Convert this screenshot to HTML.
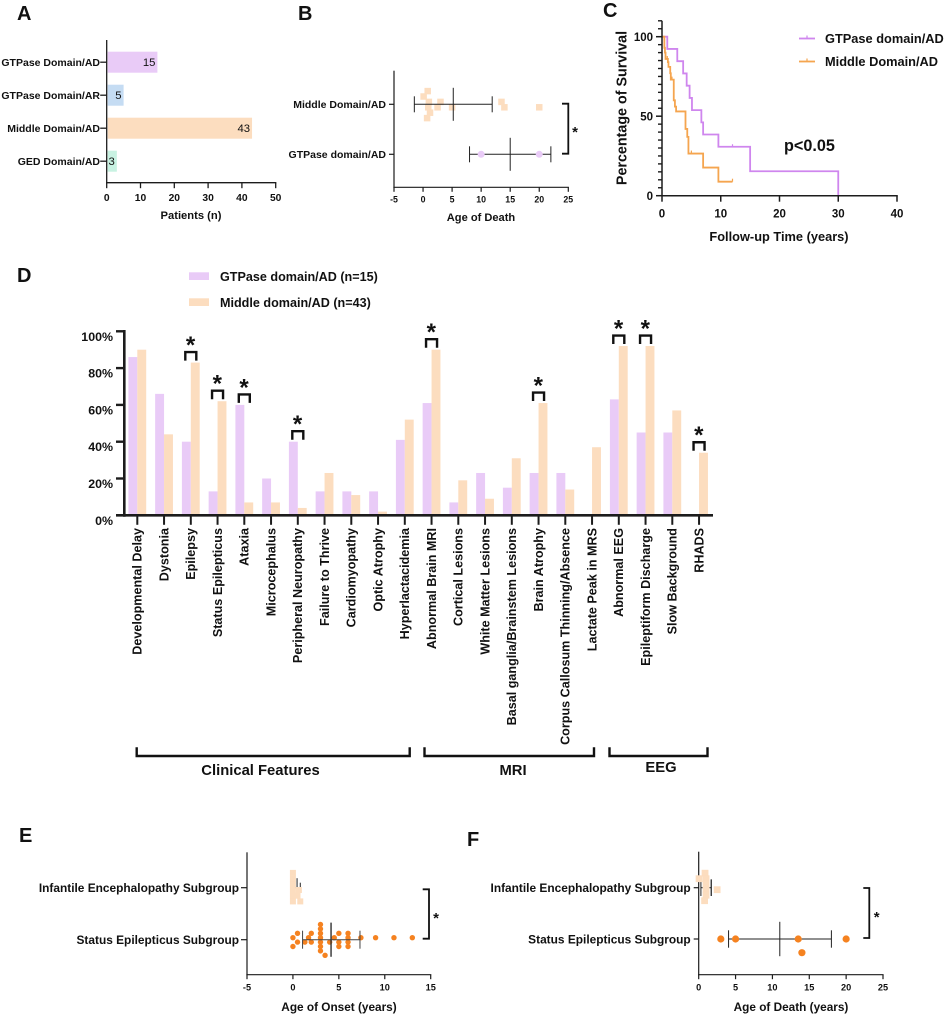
<!DOCTYPE html>
<html lang="en">
<head>
<meta charset="utf-8">
<title>DNM1L domain comparison figure</title>
<style>
html,body{margin:0;padding:0;background:#fff;width:946px;height:1015px;overflow:hidden}
svg{display:block}
text{font-family:"Liberation Sans",sans-serif;fill:#111;font-weight:bold}
.letter{font-size:20px}
</style>
</head>
<body>
<svg id="figure" width="946" height="1015" viewBox="0 0 946 1015" xmlns="http://www.w3.org/2000/svg">
  <rect x="0" y="0" width="946" height="1015" fill="#fff"/>

  <g id="panelA">
    <text class="letter" x="17" y="20">A</text>
    <text x="191" y="219" font-size="11.2" text-anchor="middle">Patients (n)</text>
  </g>
  <g id="panelB">
    <text class="letter" x="298" y="20">B</text>
    <text x="481" y="221" font-size="11.1" text-anchor="middle">Age of Death</text>
    <text x="575" y="137" font-size="15" text-anchor="middle">*</text>
  </g>
  <g id="panelC">
    <text class="letter" x="603" y="17">C</text>
    <text transform="translate(626.5,108) rotate(-90)" font-size="14.3" text-anchor="middle">Percentage of Survival</text>
    <text x="779" y="241" font-size="12.8" text-anchor="middle">Follow-up Time (years)</text>
    <text x="784" y="151" font-size="16.2">p&lt;0.05</text>
    <text x="825" y="43" font-size="12.8">GTPase domain/AD</text>
    <text x="825" y="66" font-size="12.8">Middle Domain/AD</text>
  </g>
  <g id="panelD">
    <text class="letter" x="17" y="282">D</text>
    <rect x="189" y="272.3" width="20" height="7.7" fill="#E9CBF7"/>
    <rect x="189" y="298.3" width="20" height="7.7" fill="#FCDDBF"/>
    <text x="220" y="281" font-size="12.6">GTPase domain/AD (n=15)</text>
    <text x="220" y="307" font-size="12.6">Middle domain/AD (n=43)</text>
    <path d="M136.7 747.3V756H409.7V747.3" fill="none" stroke="#111" stroke-width="2.4"/>
    <path d="M424.5 747.3V756H594V747.3" fill="none" stroke="#111" stroke-width="2.4"/>
    <path d="M609.5 747.3V756H707.5V747.3" fill="none" stroke="#111" stroke-width="2.4"/>
    <text x="260.5" y="775.2" font-size="14.8" text-anchor="middle">Clinical Features</text>
    <text x="513" y="775.2" font-size="14.8" text-anchor="middle">MRI</text>
    <text x="661" y="772.2" font-size="14.8" text-anchor="middle">EEG</text>
  </g>
  <g id="panelE">
    <text class="letter" x="19" y="842">E</text>
    <text x="339" y="1011" font-size="11.8" text-anchor="middle">Age of Onset (years)</text>
    <text x="436" y="923" font-size="15" text-anchor="middle">*</text>
  </g>
  <g id="panelF">
    <text class="letter" x="467" y="846">F</text>
    <text x="791" y="1011" font-size="11.8" text-anchor="middle">Age of Death (years)</text>
    <text x="876.7" y="922" font-size="15" text-anchor="middle">*</text>
  </g>
</svg>

<script>
// ---------- Panel A data ----------
const aCategories = ['GTPase Domain/AD', 'GTPase Domain/AR', 'Middle Domain/AD', 'GED Domain/AD'];
const aValues = [15, 5, 43, 3];
const aTicks = [0, 10, 20, 30, 40, 50];

// ---------- Panel B data ----------
const bMiddleAges = [0.8, 0.1, 1, 3, 13.5, 0.9, 2.5, 5, 14, 20, 1.2, 0.7];
const bMiddleLanes = [-3, -2, -1, -1, -1, 0, 0, 0, 0, 0, 1, 2];
const bMiddleStats = [-1.5, 5.2, 11.9];
const bGtpaseAges = [10, 20];
const bGtpaseStats = [8, 15, 22];
const bTicks = [-5, 0, 5, 10, 15, 20, 25];
const bCategories = ['Middle Domain/AD', 'GTPase domain/AD'];

// ---------- Panel C data ----------
const cGtpaseTimes = [0, 0.9, 2.6, 3.6, 4.2, 4.7, 5.1, 6.7, 7, 9.6, 15, 30];
const cGtpaseSurvival = [100, 92.3, 84.6, 76.9, 69.2, 61.5, 53.8, 46.1, 38.5, 30.8, 15.4, 0];
const cGtpaseCensorTimes = [12];
const cMiddleTimes = [0, 0.4, 0.5, 0.6, 1, 1.1, 1.4, 1.5, 2, 2.2, 2.4, 4, 4.3, 4.5, 7, 9.6, 12];
const cMiddleSurvival = [100, 93, 90, 86, 84, 81, 77, 73, 60, 56, 53, 42, 37, 26.5, 17.7, 8.8, 8.8];
const cMiddleCensorTimes = [0.9, 1.7, 5, 12];
const cXTicks = [0, 10, 20, 30, 40];
const cYMajorTicks = [0, 50, 100];
const cYMinorTicks = [5, 10, 15, 20, 25, 30, 35, 40, 45, 55, 60, 65, 70, 75, 80, 85, 90, 95, 105, 110];

// ---------- Panel D data ----------
const dCategories = ['Developmental Delay', 'Dystonia', 'Epilepsy', 'Status Epilepticus', 'Ataxia', 'Microcephalus', 'Peripheral Neuropathy', 'Failure to Thrive', 'Cardiomyopathy', 'Optic Atrophy', 'Hyperlactacidemia', 'Abnormal Brain MRI', 'Cortical Lesions', 'White Matter Lesions', 'Basal ganglia/Brainstem Lesions', 'Brain Atrophy', 'Corpus Callosum Thinning/Absence', 'Lactate Peak in MRS', 'Abnormal EEG', 'Epileptiform Discharge', 'Slow Background', 'RHADS'];
const dGtpase = [86, 66, 40, 13, 60, 20, 40, 13, 13, 13, 41, 61, 7, 23, 15, 23, 23, 0, 63, 45, 45, 0];
const dMiddle = [90, 44, 83, 62, 7, 7, 4, 23, 11, 2, 52, 90, 19, 9, 31, 61, 14, 37, 92, 92, 57, 34];
const dSignificant = ['Epilepsy', 'Status Epilepticus', 'Ataxia', 'Peripheral Neuropathy', 'Abnormal Brain MRI', 'Brain Atrophy', 'Abnormal EEG', 'Epileptiform Discharge', 'RHADS'];
const dTicks = [0, 20, 40, 60, 80, 100];

// ---------- Panel E data ----------
const eCategories = ['Infantile Encephalopathy Subgroup', 'Status Epilepticus Subgroup'];
const eInfantileAges = [0, 0, 0, 0, 0, 0, 0.65, 0.5, 0.8];
const eInfantileLanes = [-3, -2, -1, 0, 1, 2, 0, 1, 2];
const eInfantileStats = [0.1, 0.45, 0.8];
const eStatusAges = [0, 0, 0.5, 0.5, 1.7, 1.3, 2, 2, 3, 3, 3, 3, 3, 3, 3, 3.5, 4, 4.5, 5, 5, 5, 6, 6, 6, 6, 7.4, 9, 11, 13];
const eStatusLanes = [0, 2, -1, 1, 0, 1, -1, 1, -3, -2, -1, 0, 1, 2, 3, 4, 1, 0, -1, 1, 2, -1, 0, 1, 2, 0, 0, 0, 0];
const eStatusStats = [1.05, 4.15, 7.3];
const eTicks = [-5, 0, 5, 10, 15];

// ---------- Panel F data ----------
const fCategories = ['Infantile Encephalopathy Subgroup', 'Status Epilepticus Subgroup'];
const fInfantileAges = [0.86, 0.05, 1, 1, 1, 2.5, 1, 0.8];
const fInfantileLanes = [-3, -2, -2, -1, 0, 0, 1, 2];
const fInfantileStats = [0.3, 1, 1.7];
const fStatusAges = [3, 5, 13.5, 20, 14];
const fStatusLanes = [0, 0, 0, 0, 1];
const fStatusStats = [4.05, 11, 18];
const fTicks = [0, 5, 10, 15, 20, 25];

// ---------- Helpers ----------
const NS = 'http://www.w3.org/2000/svg';
const INK = '#1c1c1c';
const PURPLE = '#E9CBF7';
const ORANGE = '#FCDDBF';
const linear = (d0, d1, r0, r1) => v => r0 + (v - d0) * (r1 - r0) / (d1 - d0);

function mk(parent, tag, name, attrs, content) {
  const el = document.createElementNS(NS, tag);
  
  
  for (const k in attrs) el.setAttribute(k, attrs[k]);
  if (content !== undefined) el.textContent = content;
  parent.appendChild(el);
  return el;
}
function seg(parent, name, x1, y1, x2, y2, w, color) {
  return mk(parent, 'line', name, { x1, y1, x2, y2, stroke: color || INK, 'stroke-width': w });
}
function label(parent, name, x, y, size, anchor, txt, extra) {
  return mk(parent, 'text', name, Object.assign({ x, y, 'font-size': size, 'text-anchor': anchor }, extra || {}), txt);
}
function numberAxis(g, prefix, scale, ticks, y, tickLen, labelY, size, width) {
  const x0 = scale(ticks[0]), x1 = scale(ticks[ticks.length - 1]);
  seg(g, prefix + '-x-axis', x0 - width / 2, y, x1 + width / 2, y, width);
  ticks.forEach(t => {
    seg(g, prefix + '-x-tick', scale(t), y, scale(t), y + tickLen, width);
    label(g, prefix + '-x-tick-label', scale(t), labelY, size, 'middle', String(t));
  });
}
function categoryTick(g, prefix, axisX, y, len, rightX, size, txt, width) {
  seg(g, prefix + '-y-tick', axisX - len, y, axisX, y, width);
  label(g, prefix + '-y-tick-label', rightX, y + size * 0.36, size, 'end', txt);
}
function swarm(g, name, values, lanes, xs, baseY, step, shape, size, color) {
  values.forEach((v, i) => {
    const cx = xs(v), cy = baseY + lanes[i] * step;
    if (shape === 'square') {
      mk(g, 'rect', name, { x: cx - size / 2, y: cy - size / 2, width: size, height: size, fill: color });
    } else {
      mk(g, 'circle', name, { cx, cy, r: size / 2, fill: color });
    }
  });
}
function whisker(g, name, stats, xs, y, capHalf, meanHalf, color, w) {
  seg(g, name + '-line', xs(stats[0]), y, xs(stats[2]), y, w, color);
  seg(g, name + '-low-cap', xs(stats[0]), y - capHalf, xs(stats[0]), y + capHalf, w, color);
  seg(g, name + '-mean', xs(stats[1]), y - meanHalf, xs(stats[1]), y + meanHalf, w, color);
  seg(g, name + '-high-cap', xs(stats[2]), y - capHalf, xs(stats[2]), y + capHalf, w, color);
}
function sideBracket(g, name, x, arm, y0, y1) {
  mk(g, 'path', name, { d: `M${x - arm} ${y0}H${x}V${y1}H${x - arm}`, fill: 'none', stroke: '#111', 'stroke-width': 1.8 });
}

// ---------- Panel A ----------
(function () {
  const g = document.getElementById('panelA');
  const xs = linear(0, 50, 106.7, 275.7);
  const ys = i => 62.2 + 33 * i;
  const colors = ['#E9CBF7', '#C5DCF3', '#FCDDBF', '#C8F2E2'];
  aValues.forEach((v, i) => {
    mk(g, 'rect', 'patient-count-bar', { x: xs(0) + 1, y: ys(i) - 10.5, width: xs(v) - xs(0) - 1, height: 21, fill: colors[i] });
    label(g, 'patient-count-value', xs(v) - 2, ys(i) + 4, 11.3, 'end', String(v), { style: 'font-weight:normal' });
    categoryTick(g, 'panel-a', xs(0), ys(i), 6.5, 100, 10.5, aCategories[i], 1.3);
  });
  seg(g, 'panel-a-y-axis', xs(0), 40, xs(0), 183.2, 1.3);
  numberAxis(g, 'panel-a', xs, aTicks, 182.7, 5.5, 201, 10.3, 1.3);
})();

// ---------- Panel B ----------
(function () {
  const g = document.getElementById('panelB');
  const xs = linear(-5, 25, 394, 568.3);
  const rowM = 104.3, rowG = 154.3;
  seg(g, 'panel-b-y-axis', 394, 70.7, 394, 187.8, 1.2);
  numberAxis(g, 'panel-b', xs, bTicks, 187.3, 4.5, 202.3, 8.8, 1.2);
  categoryTick(g, 'panel-b', 394, rowM, 5, 386, 10.5, bCategories[0], 1.2);
  categoryTick(g, 'panel-b', 394, rowG, 5, 386, 10.5, bCategories[1], 1.2);
  swarm(g, 'middle-domain-death-point', bMiddleAges, bMiddleLanes, xs, 107.3, 5.4, 'square', 6.5, ORANGE);
  whisker(g, 'middle-domain-whisker', bMiddleStats, xs, rowM, 8, 16.5, '#222', 1);
  whisker(g, 'gtpase-domain-whisker', bGtpaseStats, xs, rowG, 8, 16.5, '#222', 1);
  swarm(g, 'gtpase-domain-death-point', bGtpaseAges, bGtpaseAges.map(() => 0), xs, rowG, 0, 'circle', 7, PURPLE);
  sideBracket(g, 'panel-b-significance-bracket', 568.3, 6.3, 103.7, 153.7);
})();

// ---------- Panel C ----------
(function () {
  const g = document.getElementById('panelC');
  const xs = linear(0, 40, 662, 897);
  const ys = linear(0, 100, 195.7, 36.7);
  const GP = '#CF86EE', OR = '#F5A54F';
  function stepPath(times, surv) {
    let d = `M${xs(times[0])} ${ys(surv[0])}`;
    for (let i = 1; i < times.length; i++) {
      d += `H${xs(times[i])}V${ys(surv[i])}`;
    }
    return d;
  }
  function survivalAt(times, surv, t) {
    let s = surv[0];
    times.forEach((tt, i) => { if (tt <= t) s = surv[i]; });
    return s;
  }
  mk(g, 'path', 'gtpase-survival-curve', { d: stepPath(cGtpaseTimes, cGtpaseSurvival), fill: 'none', stroke: GP, 'stroke-width': 1.8 });
  cGtpaseCensorTimes.forEach(t => {
    const y = ys(survivalAt(cGtpaseTimes, cGtpaseSurvival, t));
    seg(g, 'gtpase-censor-mark', xs(t), y - 2.5, xs(t), y, 1.2, GP);
  });
  mk(g, 'path', 'middle-survival-curve', { d: stepPath(cMiddleTimes, cMiddleSurvival), fill: 'none', stroke: OR, 'stroke-width': 1.8 });
  cMiddleCensorTimes.forEach(t => {
    const y = ys(survivalAt(cMiddleTimes, cMiddleSurvival, t));
    seg(g, 'middle-censor-mark', xs(t), y - 3, xs(t), y, 1.2, OR);
  });
  seg(g, 'panel-c-y-axis', xs(0), ys(110), xs(0), ys(0), 1.5);
  cYMinorTicks.forEach(t => seg(g, 'panel-c-y-minor-tick', xs(0) - 4, ys(t), xs(0), ys(t), 1.4));
  cYMajorTicks.forEach(t => {
    seg(g, 'panel-c-y-tick', xs(0) - 6, ys(t), xs(0), ys(t), 1.5);
    label(g, 'panel-c-y-tick-label', 653, ys(t) + 4.2, 11.5, 'end', String(t));
  });
  numberAxis(g, 'panel-c', xs, cXTicks, ys(0), 6, 217.5, 11.5, 1.5);
  seg(g, 'legend-line-gtpase', 799, 38.5, 815, 38.5, 1.8, GP);
  seg(g, 'legend-censor-gtpase', 807, 35.5, 807, 38.5, 1.2, GP);
  seg(g, 'legend-line-middle', 799, 61.5, 815, 61.5, 1.8, OR);
  seg(g, 'legend-censor-middle', 807, 58.5, 807, 61.5, 1.2, OR);
})();

// ---------- Panel D ----------
(function () {
  const g = document.getElementById('panelD');
  const xs = i => 137.3 + 26.75 * i;
  const ys = linear(0, 100, 515.3, 331.3);
  const barW = 8.9;
  dCategories.forEach((c, i) => {
    mk(g, 'rect', 'gtpase-bar', { x: xs(i) - barW, y: ys(dGtpase[i]), width: barW, height: ys(0) - ys(dGtpase[i]), fill: PURPLE });
    mk(g, 'rect', 'middle-bar', { x: xs(i), y: ys(dMiddle[i]), width: barW, height: ys(0) - ys(dMiddle[i]), fill: ORANGE });
    seg(g, 'panel-d-x-tick', xs(i), ys(0), xs(i), ys(0) + 9.5, 2);
    mk(g, 'text', 'category-label', { transform: `translate(${xs(i) + 4.4},528) rotate(-90)`, 'font-size': 12.6, 'text-anchor': 'end' }, c);
  });
  dSignificant.forEach(name => {
    const i = dCategories.indexOf(name);
    const bottom = ys(Math.max(dGtpase[i], dMiddle[i])) - 2;
    mk(g, 'path', 'significance-bracket', { d: `M${xs(i) - 5.5} ${bottom}V${bottom - 8.5}H${xs(i) + 5.5}V${bottom}`, fill: 'none', stroke: '#111', 'stroke-width': 2.4 });
    label(g, 'significance-star', xs(i) - 0.3, bottom - 7.5, 24, 'middle', '*');
  });
  seg(g, 'panel-d-y-axis', 124.3, 330, 124.3, 516.8, 2.6);
  seg(g, 'panel-d-x-axis', 116, ys(0), 713, ys(0), 2.6);
  dTicks.forEach(t => {
    seg(g, 'panel-d-y-tick', 116, ys(t), 124.3, ys(t), 2.4);
    label(g, 'panel-d-y-tick-label', 113, ys(t) + 9.5, 12.4, 'end', t + '%');
  });
})();

// ---------- Panel E ----------
(function () {
  const g = document.getElementById('panelE');
  const xs = linear(-5, 15, 247, 430.7);
  const rowI = 887.7, rowS = 939.7;
  seg(g, 'panel-e-y-axis', 247, 852.3, 247, 975.2, 1.2);
  numberAxis(g, 'panel-e', xs, eTicks, 974.7, 4.5, 990.3, 9.2, 1.2);
  categoryTick(g, 'panel-e', 247, rowI, 6, 239, 11.9, eCategories[0], 1.2);
  categoryTick(g, 'panel-e', 247, rowS, 6, 239, 11.9, eCategories[1], 1.2);
  whisker(g, 'infantile-onset-whisker', eInfantileStats, xs, rowI, 5, 9.5, '#222', 1);
  swarm(g, 'infantile-onset-point', eInfantileAges, eInfantileLanes, xs, 890, 5.7, 'square', 6, ORANGE);
  swarm(g, 'status-onset-point', eStatusAges, eStatusLanes, xs, 937.7, 4.4, 'circle', 5.4, '#F58220');
  whisker(g, 'status-onset-whisker', eStatusStats, xs, rowS, 9, 17, '#444', 1);
  seg(g, 'status-onset-mean-emphasis', xs(eStatusStats[1]), rowS - 17, xs(eStatusStats[1]), rowS + 17, 1.4, '#333');
  sideBracket(g, 'panel-e-significance-bracket', 429, 6.3, 889.3, 938.7);
})();

// ---------- Panel F ----------
(function () {
  const g = document.getElementById('panelF');
  const xs = linear(0, 25, 698.7, 883);
  const rowI = 887.7, rowS = 939;
  seg(g, 'panel-f-y-axis', 698.7, 851.7, 698.7, 975.2, 1.2);
  numberAxis(g, 'panel-f', xs, fTicks, 974.7, 4.5, 990.3, 9.2, 1.2);
  categoryTick(g, 'panel-f', 698.7, rowI, 5, 690.7, 11.9, fCategories[0], 1.2);
  categoryTick(g, 'panel-f', 698.7, rowS, 5, 690.7, 11.9, fCategories[1], 1.2);
  whisker(g, 'infantile-death-whisker', fInfantileStats, xs, rowI, 8.3, 10.5, '#222', 1);
  swarm(g, 'infantile-death-point', fInfantileAges, fInfantileLanes, xs, 889.7, 5.5, 'square', 6.8, ORANGE);
  seg(g, 'infantile-death-high-cap-visible', xs(fInfantileStats[2]), rowI - 8.3, xs(fInfantileStats[2]), rowI + 8.3, 1, '#222');
  whisker(g, 'status-death-whisker', fStatusStats, xs, rowS, 8.7, 17.2, '#222', 1);
  swarm(g, 'status-death-point', fStatusAges, fStatusLanes, xs, rowS, 13.7, 'circle', 7.2, '#F58220');
  sideBracket(g, 'panel-f-significance-bracket', 869.3, 6, 888, 938);
})();
</script>
</body>
</html>
